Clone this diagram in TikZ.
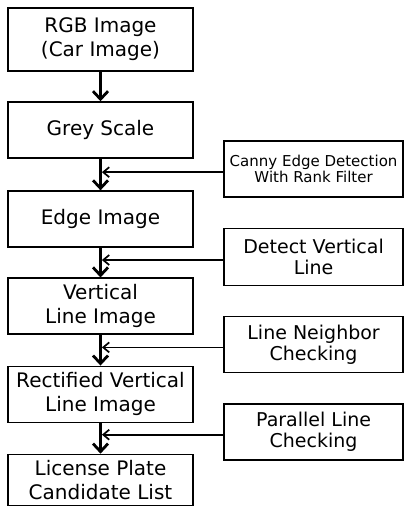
\documentclass[tikz,border=0pt]{standalone}
\usepackage{fontspec}
\setmainfont{DejaVu Sans}
\usetikzlibrary{positioning,arrows.meta}
\tikzset{
  box/.style={draw, line width=1.7pt, minimum width=185pt, minimum height=56pt,
    align=center, inner sep=2pt, font=\fontsize{20}{24}\selectfont},
  sidebox/.style={box, minimum width=179pt, font=\fontsize{19}{21}\selectfont},
  flow/.style={line width=2.6pt, -{Straight Barb[length=8pt,width=15pt,line width=2.8pt]}},
  feed/.style={line width=1.7pt, -{Straight Barb[length=6pt,width=10pt,line width=1.7pt]}}
}
\begin{document}
\begin{tikzpicture}
  \useasboundingbox (-100.5pt,39.5pt) rectangle (307.5pt,-468.5pt);

  % hovedkolonne
  \node(rgb)[box, minimum height=63pt] at (0,0) {RGB Image\\(Car Image)};
  \node(grey)[box, below=29.4pt of rgb] {Grey Scale};
  \node(edge)[box, below=31.4pt of grey] {Edge Image};
  \node(vert)[box, below=29.4pt of edge] {Vertical\\Line Image};
  \node(rect)[box, below=30.4pt of vert] {Rectified Vertical\\Line Image};
  \node(lic)[box, below=30.4pt of rect, minimum height=51pt, inner sep=0pt]
    {License Plate\\Candidate List};

  % sidebokse
  \node(canny)[sidebox, below right=-18.6pt and 29.4pt of grey,
    font=\fontsize{15}{16}\selectfont] {Canny Edge Detection\\With Rank Filter};
  \node(detect)[sidebox, below right=-20.4pt and 29.4pt of edge, minimum height=57pt]
    {Detect Vertical\\Line};
  \node(neigh)[sidebox, below right=-19.6pt and 29.4pt of vert] {Line Neighbor\\Checking};
  \node(par)[sidebox, below right=-20.4pt and 29.4pt of rect] {Parallel Line\\Checking};

  \draw[flow] (rgb) -- (grey);
  \draw[flow] (grey) -- (edge);
  \draw[flow] (edge) -- (vert);
  \draw[flow] (vert) -- (rect);
  \draw[flow] (rect) -- (lic);

  \coordinate (c1) at ([yshift=-3pt]canny.west);
  \coordinate (c2) at ([yshift=-3pt]detect.west);
  \coordinate (c3) at ([yshift=-3pt]neigh.west);
  \coordinate (c4) at ([yshift=-3pt]par.west);
  \draw[feed] (c1) -- ([xshift=1.4pt]c1 -| grey.south);
  \draw[feed] (c2) -- ([xshift=1.4pt]c2 -| edge.south);
  \draw[feed] (c3) -- ([xshift=1.4pt]c3 -| vert.south);
  \draw[feed] (c4) -- ([xshift=1.4pt]c4 -| rect.south);
\end{tikzpicture}
\end{document}
